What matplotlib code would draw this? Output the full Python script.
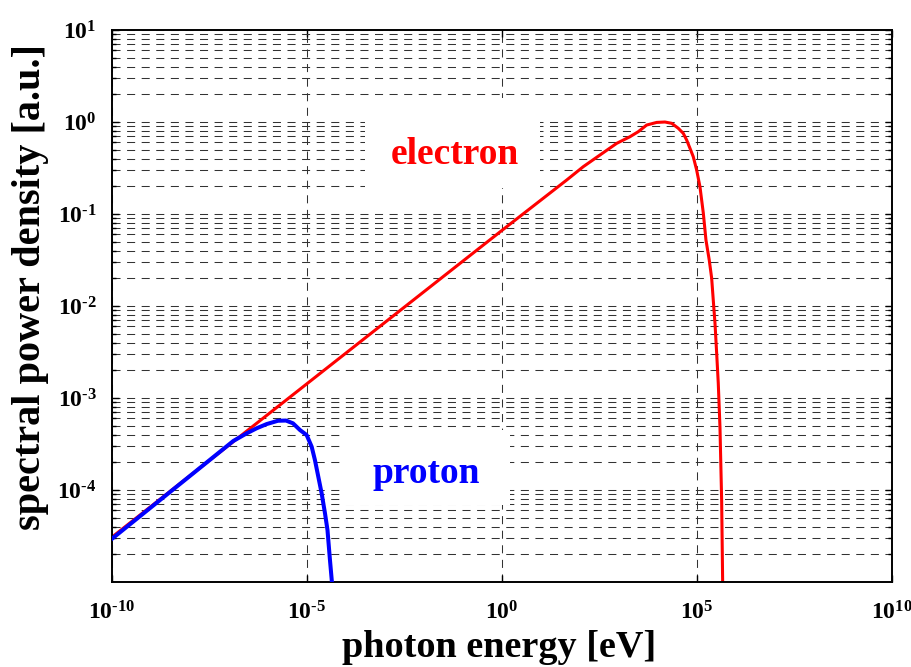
import matplotlib
matplotlib.use('Agg')
import matplotlib.pyplot as plt
import matplotlib.patches as mpatches
from matplotlib.ticker import LogLocator, NullLocator, FixedLocator, FixedFormatter

# --- FONTS / STYLE ---
plt.rcParams['font.family'] = ['Liberation Serif', 'DejaVu Serif']
plt.rcParams['font.weight'] = 'bold'
plt.rcParams['mathtext.fontset'] = 'custom'
plt.rcParams['mathtext.rm'] = 'Liberation Serif:bold'
plt.rcParams['mathtext.it'] = 'Liberation Serif:bold'
plt.rcParams['mathtext.bf'] = 'Liberation Serif:bold'
plt.rcParams['lines.scale_dashes'] = False

# --- DATA ---
# photon energy [eV] and spectral power density [a.u.]
electron_E = [1e-10, 1e-5, 1.0, 17.0, 45.6, 121.6, 326, 873, 1914, 3126, 5129,
              9268, 15100, 22440, 33190, 44570, 54450, 66220, 80350, 98170,
              1.194e5, 1.452e5, 1.702e5, 2.065e5, 2.382e5, 2.618e5, 2.897e5,
              3.199e5, 3.516e5, 3.890e5, 4.295e5, 4.56e5]
electron_P = [3.08e-5, 1.43e-3, 6.64e-2, 0.169, 0.234, 0.327, 0.438, 0.586, 0.692,
              0.785, 0.927, 0.99, 1.0, 0.968, 0.855, 0.753, 0.637, 0.518, 0.420,
              0.301, 0.198, 0.103, 5.21e-2, 3.16e-2, 2.01e-2, 1.16e-2, 6.53e-3,
              3.08e-3, 1.46e-3, 4.84e-4, 7.78e-5, 9.8e-6]

proton_E = [1e-10, 1.29e-7, 2.84e-7, 5.13e-7, 9.27e-7, 1.80e-6, 2.90e-6, 4.38e-6,
            6.62e-6, 9.82e-6, 1.32e-5, 1.60e-5, 1.95e-5, 2.38e-5, 2.90e-5,
            3.36e-5, 3.89e-5, 4.46e-5]
proton_P = [2.95e-5, 3.41e-4, 4.13e-4, 4.69e-4, 5.21e-4, 5.66e-4, 5.69e-4, 5.31e-4,
            4.49e-4, 3.96e-4, 2.96e-4, 2.12e-4, 1.40e-4, 9.2e-5, 5.58e-5,
            3.67e-5, 1.73e-5, 9.0e-6]

x_ticks = [1e-10, 1e-5, 1e0, 1e5, 1e10]
x_tick_labels = [r'$10^{\text{-}10}$', r'$10^{\text{-}5}$', r'$10^{0}$',
                 r'$10^{5}$', r'$10^{10}$']
y_ticks = [1e-4, 1e-3, 1e-2, 1e-1, 1e0, 1e1]
y_tick_labels = [r'$10^{\text{-}4}$', r'$10^{\text{-}3}$', r'$10^{\text{-}2}$',
                 r'$10^{\text{-}1}$', r'$10^{0}$', r'$10^{1}$']

# --- FIGURE ---
fig = plt.figure(figsize=(9.11, 6.67), dpi=100)
ax = fig.add_axes([0.1229, 0.1274, 0.8562, 0.8276])

ax.plot(electron_E, electron_P, color='#ff0000', linewidth=2.2, zorder=2)
ax.plot(proton_E, proton_P, color='#0000ff', linewidth=2.9, zorder=3)

ax.set_xscale('log')
ax.set_yscale('log')
ax.set_xlim(1e-10, 1e10)
ax.set_ylim(1e-5, 1e1)

ax.xaxis.set_major_locator(FixedLocator(x_ticks))
ax.xaxis.set_major_formatter(FixedFormatter(x_tick_labels))
ax.xaxis.set_minor_locator(NullLocator())
ax.yaxis.set_major_locator(FixedLocator(y_ticks))
ax.yaxis.set_major_formatter(FixedFormatter(y_tick_labels))
ax.yaxis.set_minor_locator(LogLocator(base=10, subs=range(2, 10), numticks=20))

ax.tick_params(which='both', direction='in', top=True, right=True, width=1.0)
ax.tick_params(which='major', length=5, labelsize=17)
ax.tick_params(which='minor', length=3)
ax.tick_params(axis='x', pad=14)
ax.tick_params(axis='y', pad=11)

for sp in ax.spines.values():
    sp.set_linewidth(1.4)

# dashed grid: majors on both axes, minors only on y
ax.set_axisbelow(True)
ax.grid(True, which='major', axis='both', color='0.2', linewidth=0.75,
        linestyle=(0, (5.8, 4.7)))
ax.grid(True, which='minor', axis='y', color='0.2', linewidth=0.75,
        linestyle=(0, (5.8, 4.7)))

# white boxes behind the labels (they cut the grid)
ax.add_patch(mpatches.Rectangle((0.3244, 0.7138), 0.2244, 0.163, transform=ax.transAxes,
                                facecolor='white', edgecolor='none', zorder=1))
ax.add_patch(mpatches.Rectangle((0.2949, 0.1395), 0.2154, 0.1359, transform=ax.transAxes,
                                facecolor='white', edgecolor='none', zorder=1))

ax.text(0.439, 0.757, 'electron', transform=ax.transAxes, ha='center', va='baseline',
        color='#ff0000', fontsize=27, fontweight='bold', zorder=4)
ax.text(0.4032, 0.1793, 'proton', transform=ax.transAxes, ha='center', va='baseline',
        color='#0000ff', fontsize=27, fontweight='bold', zorder=4)

ax.set_xlabel('photon energy [eV]', fontsize=27.5, fontweight='bold')
ax.set_ylabel('spectral power density [a.u.]', fontsize=29, fontweight='bold')
ax.xaxis.set_label_coords(0.496, -0.1359)
ax.xaxis.label.set_va('baseline')
ax.yaxis.set_label_coords(-0.081, 0.535)

fig.savefig('out.png', dpi=100)
